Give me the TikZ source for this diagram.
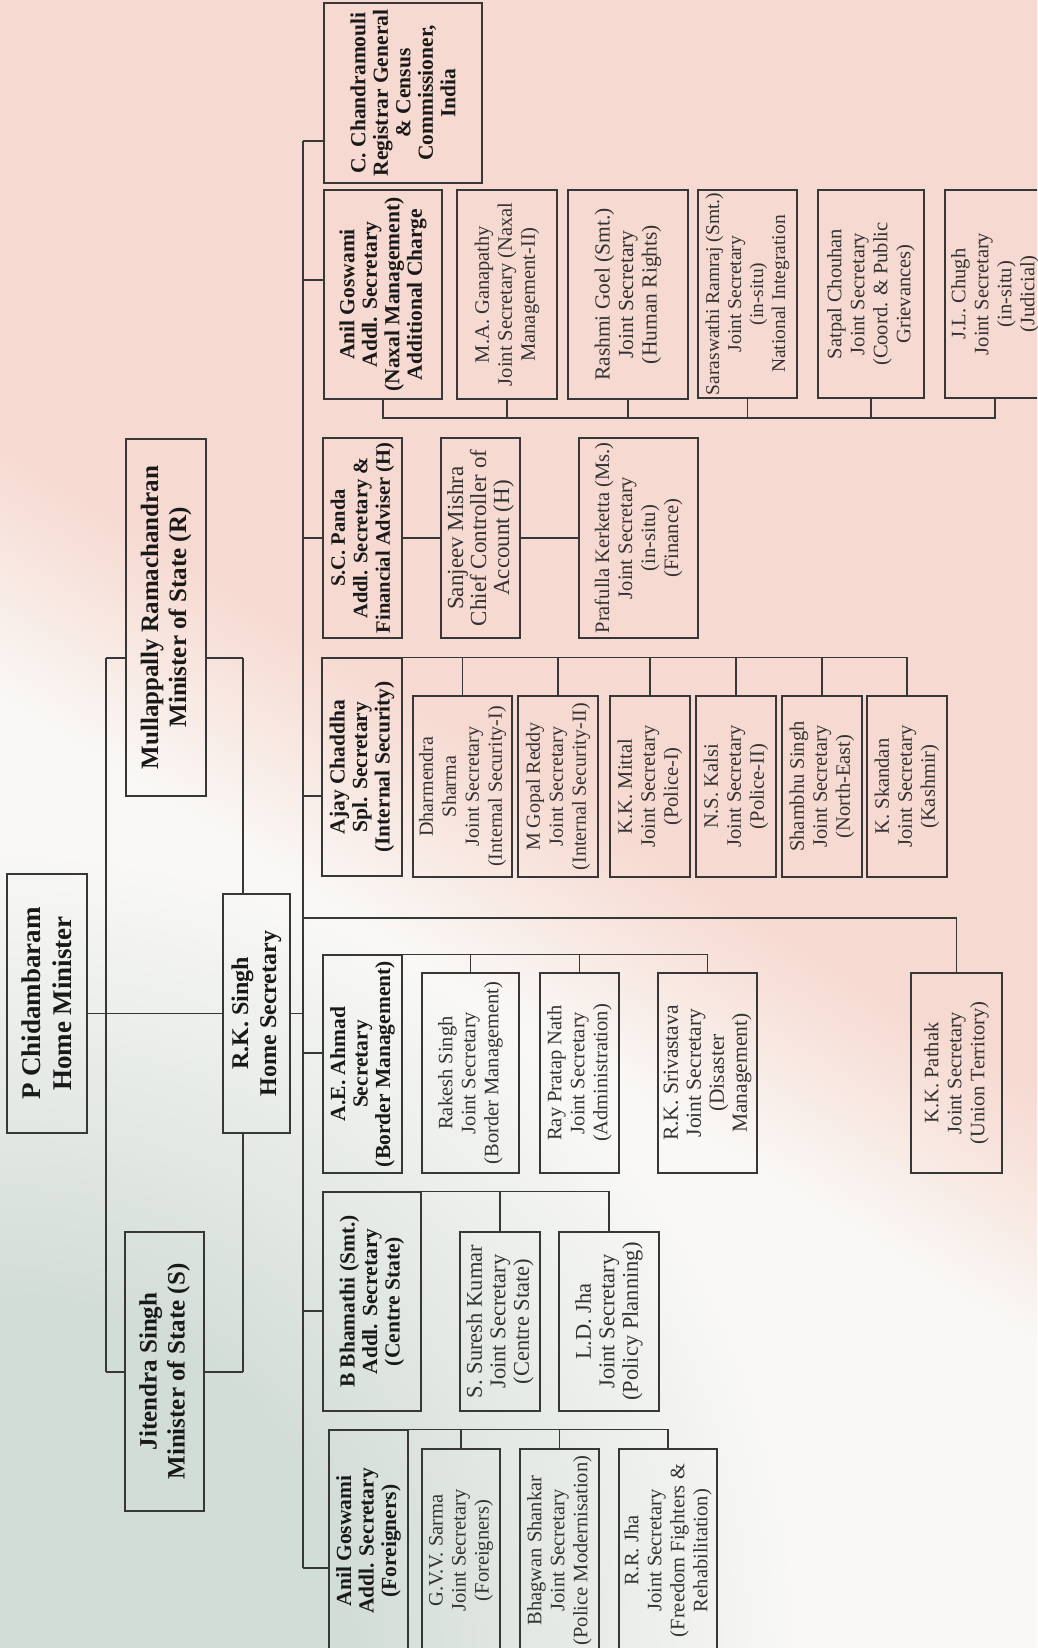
\documentclass[tikz,border=0pt]{standalone}
\usepackage{fontspec}
\setmainfont{Liberation Serif}
\usetikzlibrary{calc}

\definecolor{linegray}{RGB}{55,55,55}
\definecolor{textdark}{RGB}{25,25,25}
\definecolor{textgray}{RGB}{50,50,50}
\definecolor{bgpink}{RGB}{246,217,208}
\definecolor{bgpale}{RGB}{248,232,226}
\definecolor{bgwhite}{RGB}{249,248,246}
\definecolor{bggreen}{RGB}{211,221,216}

% faded flag behind the chart
\pgfdeclareverticalshading{flagfade}{100bp}{color(0bp)=(bgwhite); color(44bp)=(bgwhite); color(48bp)=(bgpale); color(52bp)=(bgpink); color(100bp)=(bgpink)}
\pgfdeclareradialshading{greenpatch}{\pgfpoint{0bp}{0bp}}{color(0bp)=(bggreen); color(11bp)=(bggreen); color(25bp)=(bgwhite); color(50bp)=(bgwhite)}

\begin{document}
\begin{tikzpicture}[x=1pt, y=-1pt,
        box/.style = {draw=linegray, line width=1.5pt, rotate=90, align=center, inner sep=2pt, text=textdark},
        boxsize/.style 2 args = {minimum height=#1pt, minimum width=#2pt},   % across, along the text
        head/.style = {box, font=\fontsize{25}{28}\selectfont\bfseries},
        chief/.style = {box, font=\fontsize{21.5}{22.5}\selectfont\bfseries},
        post/.style = {box, text=textgray, font=\fontsize{20.5}{23}\selectfont},
        link/.style = {draw=linegray, line width=1.3pt}]
    \useasboundingbox (0,0) rectangle (1037,1648);
    \shade[shading=flagfade, shading angle=-32] (0,0) rectangle (1037,1648);
    \shade[shading=greenpatch] (0,1648) circle (800);
    \clip (0,0) rectangle (1037,1648);

    % ministers and home secretary
    \node[head, boxsize={80}{259}, font=\fontsize{27}{31}\selectfont\bfseries] (hm) at (47,1003.5) {P Chidambaram\\Home Minister};
    \node[head, boxsize={80}{357}] (mosr) at (166,617.5) {Mullappally Ramachandran\\Minister of State (R)};
    \node[head, boxsize={79}{279}] (moss) at (164.5,1371.5) {Jitendra Singh\\Minister of State (S)};
    \node[head, boxsize={67}{239}, font=\fontsize{24}{28}\selectfont\bfseries] (hs) at (256.5,1013.5) {R.K. Singh\\Home Secretary};

    % registrar and naxal management
    \node[chief, boxsize={158}{180}] (rgi) at (403,93) {C. Chandramouli\\Registrar General\\\& Census\\Commissioner,\\India};
    \node[chief, boxsize={118}{209}] (anm) at (383,294.5) {Anil Goswami\\Addl. Secretary\\(Naxal Management)\\Additional Charge};
    \node[post, boxsize={100}{209}] (mag) at (507,294.5) {M.A. Ganapathy\\Joint Secretary (Naxal\\Management-II)};
    \node[post, boxsize={120}{209}, font=\fontsize{21.5}{23.5}\selectfont] (rgo) at (628,294.5) {Rashmi Goel (Smt.)\\Joint Secretary\\(Human Rights)};
    \node[post, boxsize={99}{208}, font=\fontsize{19.5}{22}\selectfont] (srr) at (747.5,294) {Saraswathi Ramraj (Smt.)\\Joint Secretary\\(in-situ)\\National Integration};
    \node[post, boxsize={106}{208}] (spc) at (871,294) {Satpal Chouhan\\Joint Secretary\\(Coord. \& Public\\Grievances)};
    \node[post, boxsize={100}{208}] (jlc) at (995,294) {J.L. Chugh\\Joint Secretary\\(in-situ)\\(Judicial)};

    % finance
    \node[chief, boxsize={79}{200}, font=\fontsize{20.5}{22.5}\selectfont\bfseries] (scp) at (362.5,538) {S.C. Panda\\Addl. Secretary \&\\Financial Adviser (H)};
    \node[post, boxsize={79}{200}, font=\fontsize{23}{23}\selectfont] (sjm) at (480.5,538) {Sanjeev Mishra\\Chief Controller of\\Account (H)};
    \node[post, boxsize={119}{200}] (pkk) at (638.5,538) {Prafulla Kerketta (Ms.)\\Joint Secretary\\(in-situ)\\(Finance)};

    % internal security
    \node[chief, boxsize={80}{218}] (acs) at (362,767) {Ajay Chaddha\\Spl. Secretary\\(Internal Security)};
    \node[post, boxsize={99}{181}, font=\fontsize{20}{23}\selectfont] (dsh) at (462.5,786.5) {Dharmendra\\Sharma\\Joint Secretary\\(Internal Security-I)};
    \node[post, boxsize={80}{181}, font=\fontsize{20}{23}\selectfont] (gpr) at (558,786.5) {M Gopal Reddy\\Joint Secretary\\(Internal Security-II)};
    \node[post, boxsize={80}{181}] (kkm) at (650,786.5) {K.K. Mittal\\Joint Secretary\\(Police-I)};
    \node[post, boxsize={80}{181}] (nsk) at (736,786.5) {N.S. Kalsi\\Joint Secretary\\(Police-II)};
    \node[post, boxsize={80}{181}] (shs) at (822,786.5) {Shambhu Singh\\Joint Secretary\\(North-East)};
    \node[post, boxsize={80}{181}] (ksk) at (907,786.5) {K. Skandan\\Joint Secretary\\(Kashmir)};

    % border management
    \node[chief, boxsize={79}{218}] (aea) at (362.5,1064) {A.E. Ahmad\\Secretary\\(Border Management)};
    \node[post, boxsize={97}{200}] (rsi) at (470.5,1073) {Rakesh Singh\\Joint Secretary\\(Border Management)};
    \node[post, boxsize={79}{200}] (rpn) at (579.5,1073) {Ray Pratap Nath\\Joint Secretary\\(Administration)};
    \node[post, boxsize={99}{200}, font=\fontsize{21.5}{23}\selectfont] (rks) at (707.5,1073) {R.K. Srivastava\\Joint Secretary\\(Disaster\\Management)};
    \node[post, boxsize={91}{200}] (kkp) at (956.5,1073) {K.K. Pathak\\Joint Secretary\\(Union Territory)};

    % centre state
    \node[chief, boxsize={98}{219}] (bbh) at (372,1301.5) {B Bhamathi (Smt.)\\Addl. Secretary\\(Centre State)};
    \node[post, boxsize={80}{179}, font=\fontsize{22.5}{23.5}\selectfont] (ssk) at (500,1321.5) {S. Suresh Kumar\\Joint Secretary\\(Centre State)};
    \node[post, boxsize={100}{179}, font=\fontsize{22.5}{23.5}\selectfont] (ldj) at (609,1321.5) {L.D. Jha\\Joint Secretary\\(Policy Planning)};

    % foreigners
    \node[chief, boxsize={79}{222}] (agf) at (368.5,1541) {Anil Goswami\\Addl. Secretary\\(Foreigners)};
    \node[post, boxsize={78}{203}] (gvs) at (461,1550.5) {G.V.V. Sarma\\Joint Secretary\\(Foreigners)};
    \node[post, boxsize={79}{203}] (bgs) at (559.5,1550.5) {Bhagwan Shankar\\Joint Secretary\\(Police Modernisation)};
    \node[post, boxsize={98}{203}] (rrj) at (668,1550.5) {R.R. Jha\\Joint Secretary\\(Freedom Fighters \&\\Rehabilitation)};

    % junctions
    \coordinate (jr) at (106,658);
    \coordinate (js) at (106,1372);
    \coordinate (kr) at (243,658);
    \coordinate (ks) at (243,1372);
    \coordinate (bustop) at (303,141);
    \coordinate (busbot) at (303,1568);
    \coordinate (b-anm) at (303,280);
    \coordinate (b-acs) at (303,796);
    \coordinate (b-kkp) at (303,918);
    \coordinate (b-aea) at (303,1053);
    \coordinate (b-bbh) at (303,1311);
    \coordinate (nxbus) at (0,418);

    % top of the chart
    \path[link]
        (hm.south |- hs.north) edge (hs.north)
        (jr) edge (js)
        (jr) edge (jr -| mosr.north)
        (mosr.south |- kr) edge (kr)
        (kr) edge (kr |- hs.east)
        (js) edge (js -| moss.north)
        (moss.south |- ks) edge (ks)
        (ks) edge (ks |- hs.west)
        (hs.south) edge (hs.south -| bustop)
        (bustop) edge (busbot);

    % home secretary to the wings
    \path[link]
        (bustop) edge (bustop -| rgi.north)
        (b-anm) edge (b-anm -| anm.north)
        (bustop |- scp.north) edge (scp.north)
        (b-acs) edge (b-acs -| acs.north)
        (b-aea) edge (b-aea -| aea.north)
        (b-bbh) edge (b-bbh -| bbh.north)
        (busbot) edge (busbot -| agf.north);
    \draw[link] (b-kkp) -| (kkp.east);

    % wings to joint secretaries
    \draw[link] (anm.west) -- (anm.west |- nxbus) -- (jlc.west |- nxbus) -- (jlc.west);
    \foreach \n in {mag, rgo, srr, spc}
        \draw[link] (\n.west) -- (\n.west |- nxbus);
    \path[link]
        (scp.south) edge (sjm.north)
        (sjm.south) edge (pkk.north);
    \draw[link] (acs.south east) -| (ksk.east);
    \foreach \n in {dsh, gpr, kkm, nsk, shs}
        \draw[link] (\n.east) -- (\n.east |- acs.south east);
    \draw[link] (aea.south east) -| (rks.east);
    \foreach \n in {rsi, rpn}
        \draw[link] (\n.east) -- (\n.east |- aea.south east);
    \draw[link] (bbh.south east) -| (ldj.east);
    \draw[link] (ssk.east) -- (ssk.east |- bbh.south east);
    \draw[link] (agf.south east) -| (rrj.east);
    \foreach \n in {gvs, bgs}
        \draw[link] (\n.east) -- (\n.east |- agf.south east);
\end{tikzpicture}
\end{document}
